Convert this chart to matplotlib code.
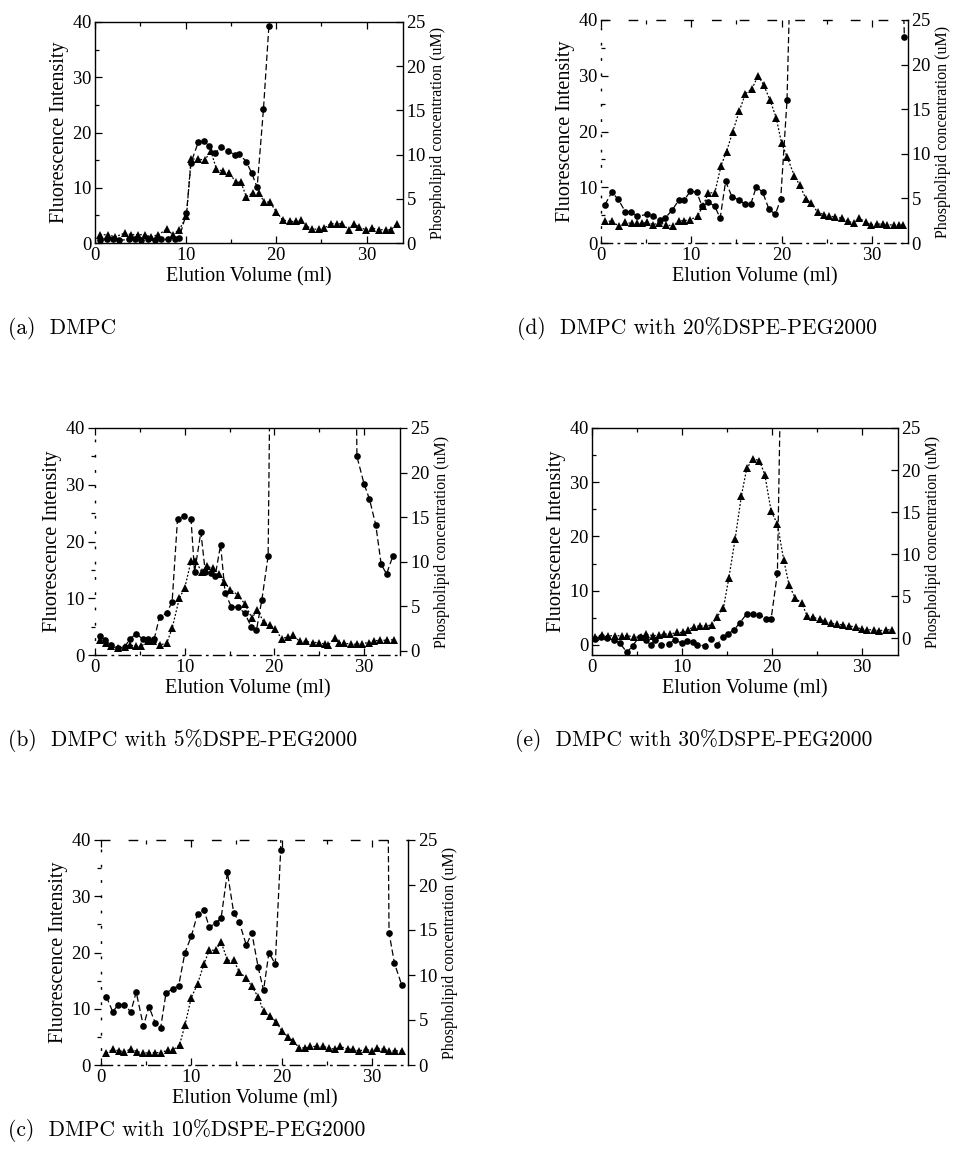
import matplotlib
matplotlib.use("Agg")
import matplotlib.pyplot as plt
from matplotlib.ticker import MultipleLocator

# ---------------- data ----------------
# triangles: fluorescence intensity (left axis); circles: phospholipid conc. (right axis, uM)
a_tri_x = [0.55,1.47,2.2,3.3,4.0,4.8,5.5,6.2,7.0,7.9,8.6,9.3,10.1,10.6,11.4,12.1,12.8,13.4,14.1,14.8,
           15.6,16.1,16.7,17.4,18.1,18.7,19.3,20.0,20.7,21.5,22.2,22.7,23.3,24.0,24.7,25.3,26.0,26.7,27.3,28.0,
           28.6,29.1,29.9,30.6,31.3,32.1,32.7,33.3]
a_tri_y = [1.5,1.5,1.1,1.8,1.5,1.5,1.5,1.1,1.5,2.5,1.5,2.4,4.8,15.2,15.2,15.0,16.6,13.4,13.0,12.6,
           11.0,11.0,8.4,9.0,9.0,7.4,7.4,5.7,4.2,3.9,3.9,4.1,3.1,2.5,2.5,2.7,3.5,3.5,3.5,2.4,
           3.5,2.9,2.4,2.7,2.4,2.4,2.4,3.5]
a_cir_x = [0.55,1.3,2.0,2.7,3.7,4.4,5.1,5.9,6.6,7.3,8.1,8.8,9.3,10.1,10.6,11.4,12.0,12.6,13.3,13.9,
           14.7,15.4,15.9,16.7,17.3,17.9,18.6,19.2]
a_cir_y = [0.3,0.4,0.4,0.3,0.4,0.4,0.3,0.4,0.3,0.4,0.4,0.5,0.6,3.4,9.1,11.4,11.5,11.0,10.2,10.9,
           10.4,10.0,10.1,9.2,7.9,6.3,15.2,24.6]

b_tri_x = [0.55,1.2,1.8,2.6,3.3,3.9,4.6,5.1,5.9,6.5,7.3,8.0,8.6,9.4,10.0,10.7,11.2,11.9,12.5,13.1,
           13.8,14.4,15.1,15.9,16.7,17.5,18.1,18.8,19.5,20.1,20.8,21.5,22.1,22.8,23.5,24.3,25.0,25.6,26.0,26.7,
           27.2,27.8,28.5,29.2,29.8,30.5,31.1,31.8,32.5,33.3]
b_tri_y = [2.6,2.1,1.5,1.2,1.4,1.8,1.5,1.5,2.5,2.5,1.8,2.1,4.7,10.0,11.8,16.5,16.5,14.7,15.6,15.3,
           14.2,12.8,11.5,10.6,9.0,6.5,8.0,5.8,5.3,4.5,2.9,3.2,3.5,2.4,2.4,2.2,2.2,1.9,1.7,3.0,
           2.2,2.1,1.9,1.9,2.0,2.2,2.5,2.6,2.6,2.7]
b_cir_x = [0.55,1.1,1.8,2.6,3.3,3.9,4.6,5.3,5.9,6.6,7.2,8.0,8.6,9.2,9.9,10.7,11.1,11.8,12.3,12.9,
           13.4,14.0,14.5,15.2,15.9,16.7,17.4,18.0,18.6,19.3,19.6,29.0,29.2,30.0,30.6,31.3,31.9,32.5,33.2]
b_cir_y = [1.6,1.2,0.6,0.3,0.4,1.3,1.9,1.3,1.3,1.3,3.8,4.2,5.5,14.8,15.1,14.8,8.8,13.3,8.8,8.7,
           8.4,11.9,6.5,4.9,4.9,4.2,2.7,2.3,5.7,10.6,40.0,40.0,21.8,18.7,17.0,14.1,9.7,8.6,10.6]
b_cir_marked = [True] * 30 + [False, False] + [True] * 7

c_tri_x = [0.6,1.3,2.0,2.6,3.3,4.0,4.7,5.3,6.0,6.7,7.4,8.0,8.7,9.3,10.0,10.7,11.4,12.0,12.7,13.3,
           14.0,14.7,15.3,16.1,16.7,17.4,18.0,18.7,19.4,20.0,20.7,21.3,21.9,22.6,23.2,23.9,24.6,25.3,25.9,26.5,
           27.3,27.9,28.6,29.3,30.0,30.6,31.3,31.9,32.6,33.3]
c_tri_y = [2.1,2.8,2.5,2.4,2.8,2.4,2.1,2.2,2.2,2.2,2.7,2.7,3.6,7.1,12.0,14.4,18.0,20.4,20.4,21.9,
           18.6,18.6,16.6,15.4,14.0,12.1,9.6,8.7,7.7,6.1,5.0,4.3,3.1,3.0,3.3,3.3,3.3,3.0,2.8,3.3,
           2.8,2.8,2.5,2.8,2.5,3.0,2.8,2.5,2.5,2.5]
c_cir_x = [0.6,1.3,1.9,2.6,3.3,3.9,4.7,5.3,6.0,6.6,7.2,8.0,8.6,9.3,10.0,10.7,11.4,12.0,12.7,13.3,
           14.0,14.7,15.3,16.1,16.7,17.4,18.0,18.6,19.3,19.9,20.1,31.7,31.9,32.5,33.3]
c_cir_y = [7.6,5.9,6.7,6.7,5.9,8.1,4.3,6.5,4.7,4.1,8.0,8.5,8.8,12.5,14.3,16.8,17.2,15.3,15.8,16.3,
           21.4,16.9,15.9,13.3,14.7,10.9,8.3,12.5,11.2,23.9,40.0,40.0,14.7,11.3,8.9]
c_cir_marked = [True] * 30 + [False, False] + [True] * 3

d_tri_x = [0.44,1.2,2.0,2.7,3.4,4.0,4.5,5.1,5.8,6.4,7.2,8.0,8.6,9.2,9.9,10.7,11.3,11.9,12.6,13.3,
           13.9,14.6,15.3,16.0,16.7,17.4,18.0,18.7,19.4,20.0,20.6,21.4,22.0,22.7,23.3,24.0,24.7,25.3,25.9,26.7,
           27.3,28.0,28.6,29.3,29.9,30.6,31.2,31.7,32.4,33.0,33.5]
d_tri_y = [3.9,3.9,3.0,3.7,3.5,3.5,3.5,3.7,3.3,3.6,3.3,3.0,4.0,4.0,4.2,4.8,6.7,9.0,9.0,13.9,
           16.4,20.0,23.6,26.8,27.6,30.0,28.4,25.7,22.5,17.9,15.5,12.1,10.4,7.9,7.1,5.5,5.1,4.8,4.7,4.4,
           4.0,3.5,4.5,3.7,3.3,3.4,3.4,3.3,3.2,3.2,3.2]
d_cir_x = [0.44,1.2,1.9,2.7,3.3,4.0,5.1,5.8,6.5,7.1,7.9,8.6,9.2,9.9,10.6,11.2,11.9,12.6,13.2,13.8,
           14.5,15.3,15.9,16.6,17.2,17.9,18.6,19.3,19.9,20.6,21.2,33.1,33.6]
d_cir_y = [4.3,5.7,4.9,3.5,3.5,3.0,3.2,3.0,2.6,2.8,3.7,4.8,4.8,5.8,5.7,4.1,4.6,4.1,2.8,6.9,
           5.2,4.8,4.4,4.4,6.3,5.7,3.8,3.2,4.9,16.0,40.0,40.0,23.1]
d_cir_marked = [True] * 30 + [False, False, True]

e_tri_x = [0.37,1.1,1.8,2.6,3.3,3.9,4.7,5.4,6.0,6.8,7.4,8.0,8.7,9.4,10.1,10.7,11.3,12.0,12.7,13.3,
           13.9,14.6,15.2,15.9,16.6,17.2,17.9,18.6,19.2,19.9,20.6,21.3,21.9,22.6,23.3,23.9,24.6,25.3,25.9,26.6,
           27.2,27.9,28.6,29.3,30.0,30.6,31.3,31.9,32.7,33.3]
e_tri_y = [1.5,1.8,1.7,1.7,1.7,1.7,1.5,1.4,2.0,1.7,1.8,2.0,2.0,2.3,2.3,2.8,3.4,3.5,3.5,3.7,
           5.2,6.8,12.3,19.5,27.5,32.6,34.3,34.0,31.4,24.7,22.3,15.7,11.0,8.6,7.7,5.4,5.1,4.7,4.4,4.0,
           3.8,3.7,3.5,3.3,2.9,2.8,2.8,2.6,2.8,2.8]
e_cir_x = [0.37,1.0,1.7,2.4,3.1,3.9,4.5,5.3,6.0,6.5,7.0,7.7,8.5,9.2,10.0,10.6,11.2,11.7,12.5,13.2,
           13.9,14.5,15.1,15.8,16.4,17.2,17.9,18.6,19.3,19.9,20.6,21.1]
e_cir_y = [-0.1,0.2,0.0,-0.2,-0.6,-1.7,-0.9,0.2,-0.2,-0.8,-0.2,-0.8,-0.7,-0.2,-0.6,-0.3,-0.4,-0.8,-0.9,-0.1,
           -0.8,0.1,0.5,1.0,1.8,2.9,2.9,2.8,2.3,2.3,7.7,40.0]
e_cir_marked = [True] * 31 + [False]

captions = {
    "a": "(a)  DMPC",
    "b": "(b)  DMPC with 5%DSPE-PEG2000",
    "c": "(c)  DMPC with 10%DSPE-PEG2000",
    "d": "(d)  DMPC with 20%DSPE-PEG2000",
    "e": "(e)  DMPC with 30%DSPE-PEG2000",
}
x_ticks = [0, 10, 20, 30]
left_ticks = [0, 10, 20, 30, 40]
right_ticks = [0, 5, 10, 15, 20, 25]
xlabel = "Elution Volume (ml)"
ylabel_left = "Fluorescence Intensity"
ylabel_right = "Phospholipid concentration (uM)"

# ---------------- layout ----------------
W, H = 954, 1159
fig = plt.figure(figsize=(W / 100, H / 100), dpi=100)
SERIF = ["Liberation Serif", "DejaVu Serif"]
CAPFONT = ["cmr10", "Liberation Serif", "DejaVu Serif"]
plt.rcParams["axes.formatter.use_mathtext"] = True

# pixel boxes: left, top, right, bottom
boxes = {
    "a": (95, 22, 403, 243),
    "d": (601, 20, 908, 243),
    "b": (95, 428, 400, 655),
    "e": (592, 428, 898, 655),
    "c": (101, 840, 408, 1065),
}
ylims = {
    "a": ((0, 40), (0, 25)),
    "d": ((0, 40), (0, 25)),
    "b": ((0, 40), (-0.5, 25)),
    "e": ((-1.85, 40), (-2.0, 25)),
    "c": ((0, 40), (0, 25)),
}
caption_pos = {"a": (8, 328), "d": (517, 328), "b": (8, 741), "e": (515, 741), "c": (8, 1131)}
tick_dir = {"a": "in", "d": "in", "b": "out", "e": "in", "c": "out"}
SPARSE_DOT = (0, (1, 10))
SPARSE_DASH = (0, (6, 14))
DASHDOT = (0, (8, 4, 1, 4))
spine_styles = {
    "a": {},
    "b": {"left": SPARSE_DOT, "bottom": DASHDOT},
    "c": {"left": SPARSE_DOT, "top": SPARSE_DASH, "bottom": DASHDOT},
    "d": {"left": SPARSE_DOT, "top": SPARSE_DASH, "bottom": DASHDOT},
    "e": {},
}

data = {
    "a": (a_tri_x, a_tri_y, a_cir_x, a_cir_y, None),
    "b": (b_tri_x, b_tri_y, b_cir_x, b_cir_y, b_cir_marked),
    "c": (c_tri_x, c_tri_y, c_cir_x, c_cir_y, c_cir_marked),
    "d": (d_tri_x, d_tri_y, d_cir_x, d_cir_y, d_cir_marked),
    "e": (e_tri_x, e_tri_y, e_cir_x, e_cir_y, e_cir_marked),
}

for key in ["a", "b", "c", "d", "e"]:
    l, t, r, b = boxes[key]
    ax = fig.add_axes([l / W, 1 - b / H, (r - l) / W, (b - t) / H])
    ax2 = ax.twinx()
    tx, ty, cx, cy, marked = data[key]

    ax.plot(tx, ty, color="black", lw=0.9, linestyle=(0, (1.5, 1.5)),
            marker="^", ms=5.5, markeredgewidth=0, clip_on=True, zorder=3)
    ax2.plot(cx, cy, color="black", lw=0.9, linestyle=(0, (5, 2.5)), zorder=3)
    if marked is None:
        mx, my = cx, cy
    else:
        mx = [x for x, m in zip(cx, marked) if m]
        my = [y for y, m in zip(cy, marked) if m]
    ax2.plot(mx, my, linestyle="none", color="black", marker="o", ms=4.8,
             markeredgewidth=0, zorder=4)

    ax.set_xlim(0, 34)
    ax.set_ylim(*ylims[key][0])
    ax2.set_ylim(*ylims[key][1])
    ax.set_xticks(x_ticks)
    ax.set_yticks(left_ticks)
    ax2.set_yticks(right_ticks)
    ax.xaxis.set_minor_locator(MultipleLocator(5))
    ax.yaxis.set_minor_locator(MultipleLocator(5))

    d = tick_dir[key]
    ax.tick_params(axis="x", which="both", direction="in", top=True, bottom=True,
                   labelsize=13.5, pad=3, length=5, width=0.9)
    ax.tick_params(axis="x", which="minor", length=3)
    ax.tick_params(axis="y", which="both", direction=d, left=True, right=False,
                   labelsize=13.5, pad=2, length=5, width=0.9)
    ax.tick_params(axis="y", which="minor", length=3)
    ax2.tick_params(axis="y", which="both", direction=d, right=True,
                    labelsize=13.5, pad=2, length=5, width=0.9)
    for lab in ax.get_xticklabels() + ax.get_yticklabels() + ax2.get_yticklabels():
        lab.set_fontfamily(SERIF)

    ax.set_xlabel(xlabel, fontsize=14.5, family=SERIF, labelpad=2)
    ax.set_ylabel(ylabel_left, fontsize=14.5, family=SERIF, labelpad=2)
    ax2.set_ylabel(ylabel_right, fontsize=11.5, family=SERIF, labelpad=3)

    for s in ax2.spines.values():
        s.set_visible(False)
    for name, sp in ax.spines.items():
        sp.set_linewidth(1.0)
        if name in spine_styles[key]:
            sp.set_linestyle(spine_styles[key][name])
    ax2.spines["right"].set_visible(True)
    ax2.spines["right"].set_linewidth(1.0)
    ax.spines["right"].set_visible(False)

    cxp, cyp = caption_pos[key]
    fig.text(cxp / W, 1 - cyp / H, captions[key], fontsize=15.5, family=CAPFONT,
             ha="left", va="center")

fig.savefig("out.png", dpi=100, facecolor="white")
